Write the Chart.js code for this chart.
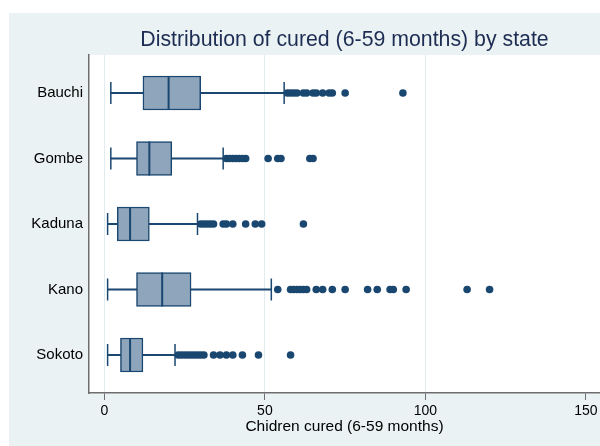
<!DOCTYPE html>
<html>
<head>
<meta charset="utf-8">
<script src="https://cdn.jsdelivr.net/npm/chart.js@4/dist/chart.umd.min.js"></script>
<style>
  html, body { margin: 0; padding: 0; background: #fff; }
  #wrap { width: 600px; height: 446px; position: relative; }
</style>
</head>
<body>
<div id="wrap"><canvas id="boxchart"></canvas></div>
<script>
// values (children cured, 6-59 months)
const states      = ['Bauchi', 'Gombe', 'Kaduna', 'Kano', 'Sokoto'];
const whiskerLow  = [2, 2, 1, 1, 1];
const q1          = [12, 10, 4, 10, 5];
const median      = [20, 14, 8, 18, 8];
const q3          = [30, 21, 14, 27, 12];
const whiskerHigh = [56, 37, 29, 52, 22];
const outliers = [
    [57, 58, 59, 60, 62, 63, 65, 66, 68, 70, 71, 75, 93],
    [38, 39, 40, 41, 42, 43, 44, 51, 54, 55, 64, 65],
    [30, 31, 32, 33, 34, 37, 38, 40, 44, 47, 49, 62],
    [54, 58, 59, 60, 61, 62, 63, 66, 68, 71, 75, 82, 85, 89, 90, 94, 113, 120],
    [23, 24, 25, 26, 27, 28, 29, 30, 31, 34, 36, 38, 40, 43, 48, 58]
];
const xTicks = [0, 50, 100, 150];

const NAVY = '#1a476f';
const BOXFILL = '#8fa5bc';
const FONT = "'Liberation Sans', Arial, Helvetica, sans-serif";

// state i sits at y = i+1 on a reversed linear axis
const pos = (i) => i + 1;

const whiskerData = states.map((s, i) => ({x: [whiskerLow[i], whiskerHigh[i]], y: pos(i)}));
const boxData     = states.map((s, i) => ({x: [q1[i], q3[i]], y: pos(i)}));
const medianData  = states.map((s, i) => ({x: median[i], y: pos(i)}));
const capData     = [];
states.forEach((s, i) => {
    capData.push({x: whiskerLow[i], y: pos(i)});
    capData.push({x: whiskerHigh[i], y: pos(i)});
});
const outlierData = [];
outliers.forEach((list, i) => list.forEach((v) => outlierData.push({x: v, y: pos(i)})));

const backdrop = {
    id: 'backdrop',
    beforeDraw(chart) {
        const {ctx, chartArea: a, width, height} = chart;
        ctx.save();
        ctx.fillStyle = '#ffffff';
        ctx.fillRect(0, 0, width, height);
        ctx.fillStyle = '#eaf2f3';
        ctx.fillRect(9, 13, width - 9, height - 13);
        ctx.fillStyle = '#ffffff';
        ctx.fillRect(a.left, a.top, a.right - a.left, a.bottom - a.top);
        ctx.restore();
    }
};

const ctx = document.getElementById('boxchart').getContext('2d');
new Chart(ctx, {
    type: 'scatter',
    data: {
        datasets: [
            {
                label: 'outliers',
                data: outlierData,
                pointRadius: 3.8,
                pointBackgroundColor: NAVY,
                pointBorderWidth: 0
            },
            {
                label: 'median',
                data: medianData,
                pointStyle: 'line',
                rotation: 90,
                pointRadius: 17,
                borderColor: NAVY,
                pointBorderColor: NAVY,
                pointBorderWidth: 2
            },
            {
                label: 'caps',
                data: capData,
                pointStyle: 'line',
                rotation: 90,
                pointRadius: 11,
                borderColor: NAVY,
                pointBorderColor: NAVY,
                pointBorderWidth: 1.5
            },
            {
                type: 'bar',
                label: 'box',
                indexAxis: 'y',
                grouped: false,
                data: boxData,
                barThickness: 34,
                backgroundColor: BOXFILL,
                borderColor: NAVY,
                borderWidth: 1.5,
                borderSkipped: false
            },
            {
                type: 'bar',
                label: 'whisker',
                indexAxis: 'y',
                grouped: false,
                data: whiskerData,
                barThickness: 1.5,
                backgroundColor: NAVY,
                borderWidth: 0
            }
        ]
    },
    options: {
        responsive: true,
        maintainAspectRatio: false,
        animation: false,
        layout: {padding: 0, autoPadding: false},
        plugins: {
            legend: {display: false},
            tooltip: {enabled: false},
            title: {
                display: true,
                fullSize: false,
                text: 'Distribution of cured (6-59 months) by state',
                color: '#1e2d53',
                font: {family: FONT, size: 21.3, weight: 'normal'},
                padding: {top: 27.5, bottom: 1.94}
            }
        },
        scales: {
            x: {
                type: 'linear',
                min: -4.8,
                max: 154.4,
                offset: false,
                beginAtZero: false,
                afterFit: (scale) => {
                    scale.height = 53;
                    scale.paddingLeft = 0;
                    scale.paddingRight = 0;
                },
                afterBuildTicks: (scale) => { scale.ticks = xTicks.map((v) => ({value: v})); },
                ticks: {
                    color: '#000',
                    font: {family: FONT, size: 14},
                    padding: 3,
                    maxRotation: 0,
                    autoSkip: false
                },
                grid: {
                    offset: false,
                    color: (c) => (c.tick && c.tick.value === 150 ? 'rgba(0,0,0,0)' : '#e2ecef'),
                    tickColor: '#6e6e6e',
                    tickLength: 7,
                    lineWidth: 1
                },
                border: {color: '#6e6e6e', width: 1.5},
                title: {
                    display: true,
                    text: 'Chidren cured (6-59 months)',
                    color: '#000',
                    font: {family: FONT, size: 15.5},
                    padding: {top: 0, bottom: 10}
                }
            },
            y: {
                type: 'linear',
                reverse: true,
                min: 0.42,
                max: 5.58,
                offset: false,
                afterFit: (scale) => {
                    scale.width = 89;
                    scale.paddingTop = 0;
                    scale.paddingBottom = 0;
                },
                afterBuildTicks: (scale) => { scale.ticks = states.map((s, i) => ({value: pos(i)})); },
                ticks: {
                    color: '#000',
                    font: {family: FONT, size: 15},
                    padding: 6,
                    autoSkip: false,
                    callback: (v) => states[v - 1]
                },
                grid: {offset: false, display: true, drawOnChartArea: false, drawTicks: false},
                border: {color: '#6e6e6e', width: 1.5}
            }
        }
    },
    plugins: [backdrop]
});
</script>
</body>
</html>
